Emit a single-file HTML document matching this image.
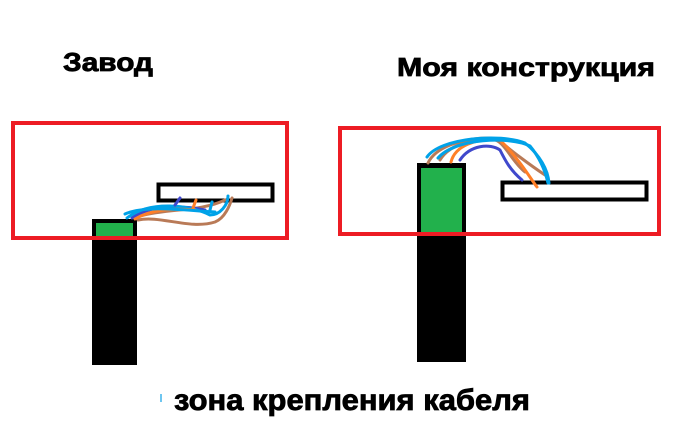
<!DOCTYPE html>
<html><head><meta charset="utf-8"><style>html,body{margin:0;padding:0;background:#fff;width:690px;height:434px;overflow:hidden}</style></head>
<body>
<svg width="690" height="434" viewBox="0 0 690 434" xmlns="http://www.w3.org/2000/svg" font-family="Liberation Sans, sans-serif" font-weight="bold">
<g stroke="#000" stroke-width="0.8">
<text x="63" y="71" font-size="26" textLength="90" lengthAdjust="spacingAndGlyphs">Завод</text>
<text x="397" y="76" font-size="26" textLength="258" lengthAdjust="spacingAndGlyphs">Моя конструкция</text>
<text x="174" y="410" font-size="30" textLength="356" lengthAdjust="spacingAndGlyphs">зона крепления кабеля</text>
</g>
<rect x="160" y="394" width="2" height="8" fill="#6ec6f0"/>
<!-- left -->
<rect x="92" y="219" width="45" height="146" fill="#000"/>
<rect x="96" y="223" width="37" height="14" fill="#22b14c"/>
<rect x="158.5" y="184.5" width="114" height="16" fill="none" stroke="#000" stroke-width="4"/>
<g fill="none" stroke-width="3" stroke-linecap="round">
<path d="M138 220 C160 215 190 230 215 222 C225 218 230 205 232 198" stroke="#b97a57"/>
<path d="M140 216 C170 208 200 212 225 200" stroke="#b97a57"/>
<path d="M132 218 C150 205 180 205 205 210" stroke="#3f48cc"/>
<path d="M127 218 C150 200 190 205 210 215 C220 215 228 205 228 196" stroke="#00a2e8"/>
<path d="M135 219 C150 210 170 208 195 210" stroke="#ff7f27"/>
<path d="M193 208 L196 200" stroke="#ff7f27"/>
<path d="M175 205 L180 198" stroke="#3f48cc"/>
<path d="M210 210 L212 202" stroke="#00a2e8"/>
<path d="M125 214 C145 205 180 210 215 212" stroke="#00a2e8"/>
</g>
<rect x="13" y="123" width="274" height="115" fill="none" stroke="#ed1c24" stroke-width="4"/>
<!-- right -->
<rect x="417" y="163" width="49" height="199" fill="#000"/>
<rect x="421" y="168" width="41" height="66" fill="#22b14c"/>
<rect x="502.5" y="182.5" width="144" height="17" fill="none" stroke="#000" stroke-width="4"/>
<g fill="none" stroke-width="3" stroke-linecap="round">
<path d="M428 163 C435 148 460 138 490 138 C505 140 510 160 525 172" stroke="#b97a57"/>
<path d="M440 160 C450 143 480 136 500 141 C510 150 530 165 545 175" stroke="#b97a57"/>
<path d="M460 160 C470 145 490 143 500 150 C505 160 510 170 522 180" stroke="#3f48cc"/>
<path d="M451 162 C455 146 475 138 500 140 C520 160 530 178 537 187" stroke="#ff7f27"/>
<path d="M427 157 C440 138 500 133 525 143 C540 155 548 170 549 183" stroke="#00a2e8"/>
<path d="M438 158 C455 138 510 136 530 146 C540 158 545 170 548 183" stroke="#00a2e8"/>
</g>
<rect x="340" y="128" width="319" height="106" fill="none" stroke="#ed1c24" stroke-width="4"/>
</svg>
</body></html>
